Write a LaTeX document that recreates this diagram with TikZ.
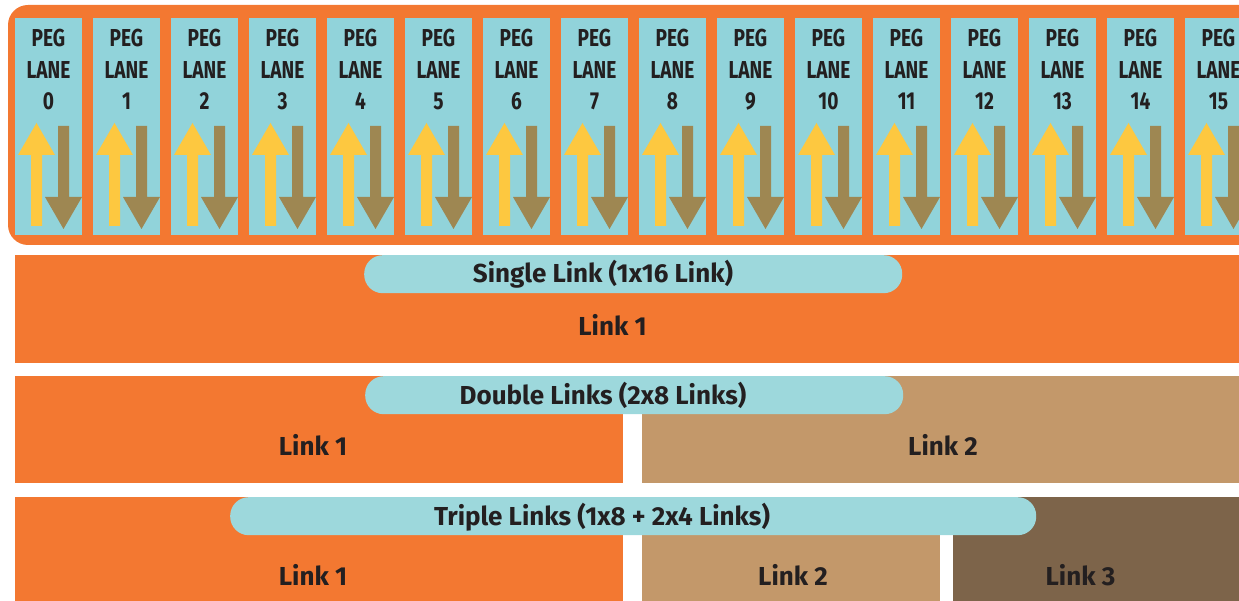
\documentclass[tikz,border=0pt]{standalone}
\usepackage{fontspec}
\setmainfont{Fira Sans}
\newfontfamily\lanefont[FakeStretch=0.78]{Fira Sans}
\newfontfamily\linkfont{Fira Sans}
\definecolor{cOrange}{HTML}{F37831}
\definecolor{cLane}{HTML}{91D3DA}
\definecolor{cPill}{HTML}{9DD8DC}
\definecolor{cTan}{HTML}{C3986A}
\definecolor{cDark}{HTML}{7D644A}
\definecolor{cYellow}{HTML}{FDC840}
\definecolor{cArrow}{HTML}{9E8752}
\definecolor{cText}{HTML}{231F20}
\tikzset{
  lanebox/.style={fill=cLane, draw=none, minimum width=67pt, minimum height=217pt, anchor=north west, inner sep=0pt, outer sep=0pt},
  lanetxt/.style={anchor=base, text=cText, font=\lanefont\bfseries\fontsize{24.5}{28}\selectfont, inner sep=0pt},
  linktxt/.style={anchor=base, text=cText, font=\linkfont\bfseries\fontsize{26}{30}\selectfont, inner sep=0pt},
  pill/.style={fill=cPill, draw=none, rounded corners=18.5pt, inner sep=0pt, anchor=north west, minimum height=38pt},
  bar/.style={draw=none, inner sep=0pt, outer sep=0pt, anchor=north west},
  uparrow/.style={fill=cYellow, draw=none},
  downarrow/.style={fill=cArrow, draw=none}
}
\begin{document}
\begin{tikzpicture}[x=1pt, y=-1pt]
\useasboundingbox (0,0) rectangle (1239,601);
\clip (0,0) rectangle (1239,601);
% top orange rounded container
\fill[cOrange, rounded corners=20pt] (8,5) rectangle (1290,245);
% lanes
\foreach \i in {0,...,15}{
  \pgfmathsetmacro{\L}{15+78*\i}
  \node[lanebox] (lane\i) at (\L,18) {};
  \node[lanetxt] (peg\i) at (\L+33.5,46.5) {PEG};
  \node[lanetxt] (lan\i) at (\L+33.5,78.5) {LANE};
  \node[lanetxt] (num\i) at (\L+33.5,109.5) {\i};
  \fill[uparrow] (\L+16,226) -- (\L+16,155) -- (\L+3,155) -- (\L+21.5,123) -- (\L+40,155) -- (\L+27,155) -- (\L+27,226) -- cycle;
  \fill[downarrow] (\L+43,126) -- (\L+54,126) -- (\L+54,197) -- (\L+67,197) -- (\L+48.5,229) -- (\L+30,197) -- (\L+43,197) -- cycle;
}
% single link row
\node[bar, fill=cOrange, minimum width=1260pt, minimum height=108pt] (single) at (15,255) {};
\node[pill, minimum width=538pt] (singlepill) at (364,255) {};
\node[linktxt] (singlelabel) at (603,283) {Single Link (1x16 Link)};
\node[linktxt] (singlelink1) at (612.5,336) {Link 1};
% double link row
\node[bar, fill=cOrange, minimum width=608pt, minimum height=107pt] (double1) at (15,376) {};
\node[bar, fill=cTan, minimum width=640pt, minimum height=107pt] (double2) at (642,376) {};
\node[pill, minimum width=538pt] (doublepill) at (365,376) {};
\node[linktxt] (doublelabel) at (603,404) {Double Links (2x8 Links)};
\node[linktxt] (doublelink1) at (313,455) {Link 1};
\node[linktxt] (doublelink2) at (943,455) {Link 2};
% triple link row
\node[bar, fill=cOrange, minimum width=608pt, minimum height=120pt] (triple1) at (15,497) {};
\node[bar, fill=cTan, minimum width=298pt, minimum height=120pt] (triple2) at (642,497) {};
\node[bar, fill=cDark, minimum width=320pt, minimum height=120pt] (triple3) at (953,497) {};
\node[pill, minimum width=806pt] (triplepill) at (230,497) {};
\node[linktxt] (triplelabel) at (602,525) {Triple Links (1x8 + 2x4 Links)};
\node[linktxt] (triplelink1) at (313,585) {Link 1};
\node[linktxt] (triplelink2) at (793,585) {Link 2};
\node[linktxt] (triplelink3) at (1080.5,585) {Link 3};
\end{tikzpicture}
\end{document}
